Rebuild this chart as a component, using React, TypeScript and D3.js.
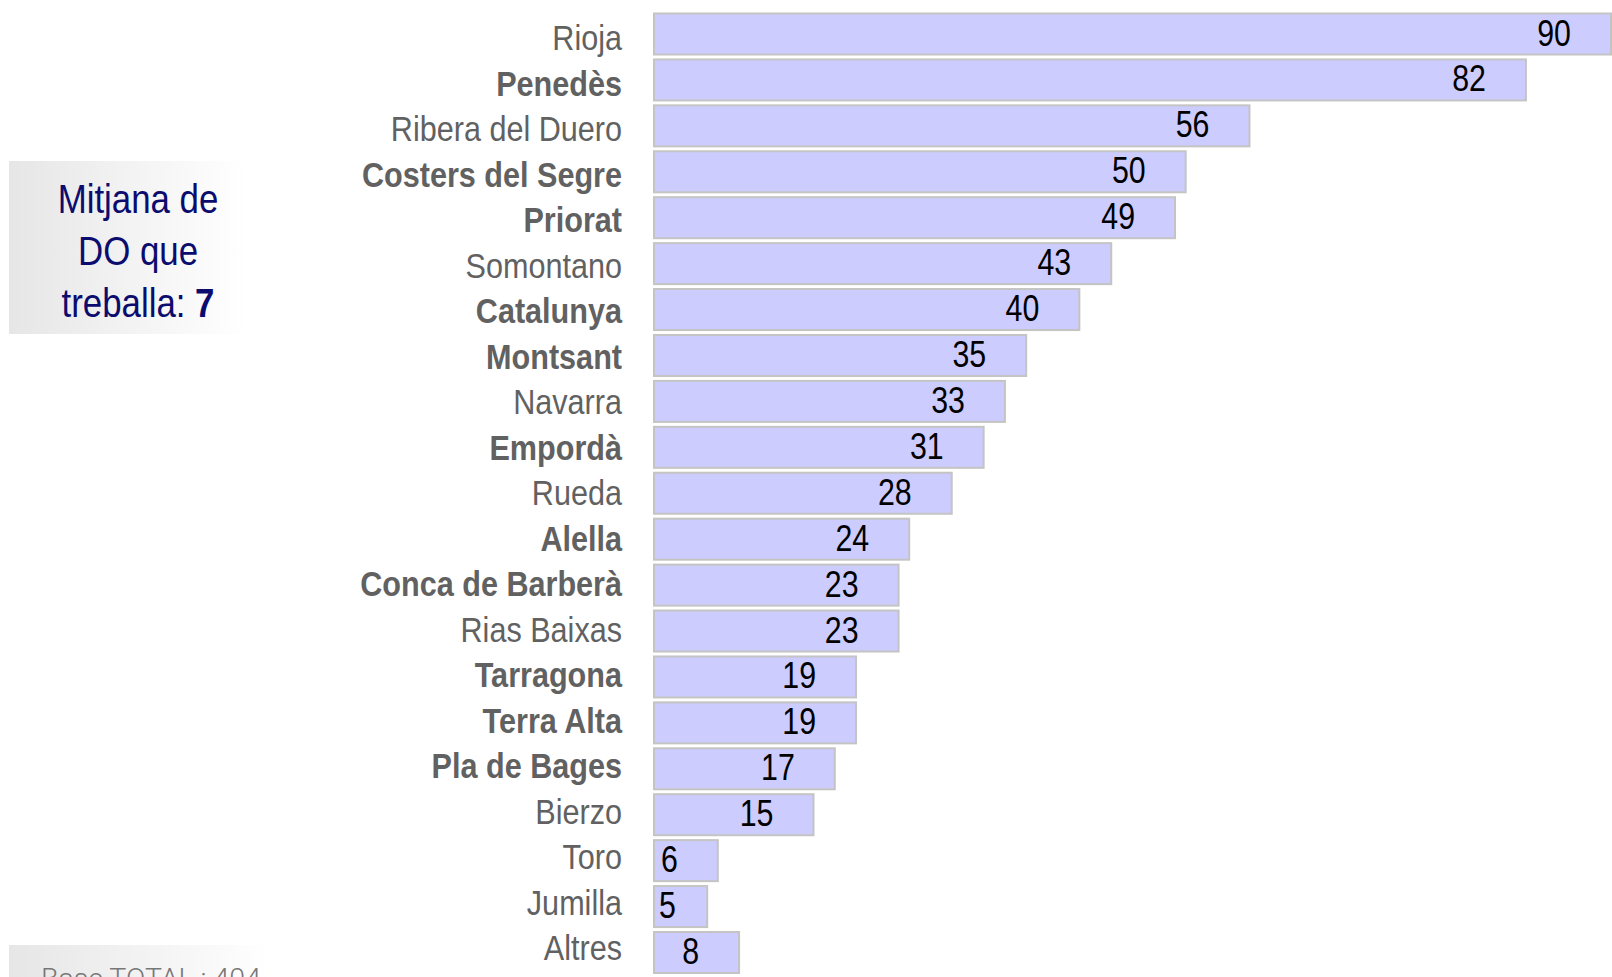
import React from "react";
import * as d3 from "d3";

const categories = [
  "Rioja", "Penedès", "Ribera del Duero", "Costers del Segre", "Priorat", "Somontano",
  "Catalunya", "Montsant", "Navarra", "Empordà", "Rueda", "Alella", "Conca de Barberà",
  "Rias Baixas", "Tarragona", "Terra Alta", "Pla de Bages", "Bierzo", "Toro", "Jumilla", "Altres",
];
const values = [90, 82, 56, 50, 49, 43, 40, 35, 33, 31, 28, 24, 23, 23, 19, 19, 17, 15, 6, 5, 8];
const boldCategories = [
  "Penedès", "Costers del Segre", "Priorat", "Catalunya", "Montsant", "Empordà", "Alella",
  "Conca de Barberà", "Tarragona", "Terra Alta", "Pla de Bages",
];
const boxLines = ["Mitjana de", "DO que", "treballa: "];
const boxValue = "7";
const baseText = "Base TOTAL : 404";

const W = 1612;
const H = 977;
const FONT = "'Liberation Sans', Arial, sans-serif";

function NText(props: {
  x: number; y: number; anchor?: string; size: number; fill: string; weight?: string; sx?: number;
  children: React.ReactNode;
}) {
  return (
    <g transform={`translate(${props.x},${props.y}) scale(${props.sx ?? 0.84},1)`}>
      <text x={0} y={0} textAnchor={props.anchor || "start"} fontSize={props.size} fill={props.fill}
        fontWeight={props.weight || "normal"} fontFamily={FONT}>
        {props.children}
      </text>
    </g>
  );
}

export default function App() {
  const x = d3.scaleLinear().domain([0, 90]).range([654, 1611]);
  const y = d3.scaleBand<string>().domain(categories).range([13.5, 973]).paddingInner(0.107).paddingOuter(0);
  const yLabel = d3.scalePoint<string>().domain(categories).range([50, 960]);
  const bw = y.bandwidth();

  return (
    <svg width={W} height={H} style={{ position: "absolute", left: 0, top: 0 }} fontFamily={FONT}>
      <defs>
        <linearGradient id="boxGrad" x1="0" x2="1" y1="0" y2="0">
          <stop offset="0" stopColor="#e6e6e6" />
          <stop offset="1" stopColor="#ffffff" />
        </linearGradient>
      </defs>
      <rect x={0} y={0} width={W} height={H} fill="#fff" />

      <rect x={9} y={161} width={237} height={173} fill="url(#boxGrad)" />
      {boxLines.map((l, i) => (
        <NText key={i} x={138} y={213 + i * 52} anchor="middle" size={41} fill="#0c0c6e" sx={0.85}>
          {l}
          {i === boxLines.length - 1 ? <tspan fontWeight="bold">{boxValue}</tspan> : null}
        </NText>
      ))}

      <rect x={9} y={945} width={262} height={40} fill="url(#boxGrad)" />
      <text x={41} y={988} fontSize={28.5} fill="#777" fontFamily="Roboto, sans-serif" fontWeight={300}>
        {baseText}
      </text>

      {categories.map((c, i) => {
        const y0 = y(c)!;
        const v = values[i];
        const end = x(v);
        const labelX = Math.max(end - 40, x(0) + 22);
        const bold = boldCategories.includes(c);
        return (
          <g key={c}>
            <rect x={x(0)} y={y0} width={end - x(0)} height={bw} fill="#ccccff" stroke="#c4c4c4" strokeWidth={2} />
            <NText x={622} y={yLabel(c)!} anchor="end" size={36} sx={0.85}
              weight={bold ? "bold" : "normal"} fill="#616161">
              {c}
            </NText>
            <NText x={labelX} y={y0 + bw / 2 + 11.5} anchor="end" size={37} fill="#000" sx={0.82}>
              {v}
            </NText>
          </g>
        );
      })}
    </svg>
  );
}
